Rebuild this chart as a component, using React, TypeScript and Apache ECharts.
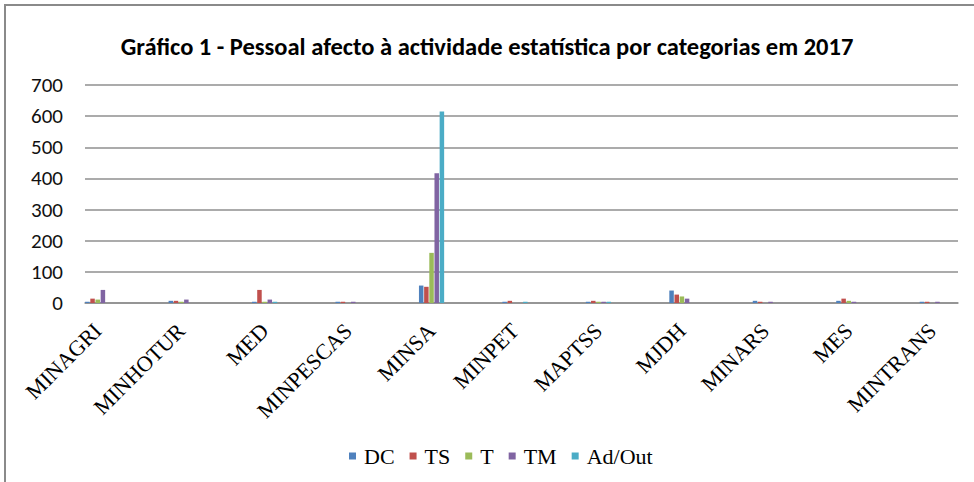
import { useEffect, useRef } from 'react';
import * as echarts from 'echarts';

const categories = ['MINAGRI', 'MINHOTUR', 'MED', 'MINPESCAS', 'MINSA', 'MINPET', 'MAPTSS', 'MJDH', 'MINARS', 'MES', 'MINTRANS'];
const seriesNames = ['DC', 'TS', 'T', 'TM', 'Ad/Out'];
const dcValues = [4, 7, 4, 4, 56, 4, 4, 40, 7, 7, 4];
const tsValues = [14, 7, 42, 4, 52, 7, 7, 27, 4, 14, 4];
const tValues = [11, 4, 4, 0, 161, 0, 4, 21, 0, 7, 0];
const tmValues = [42, 11, 11, 4, 417, 0, 4, 14, 4, 4, 4];
const adOutValues = [0, 0, 4, 0, 615, 4, 4, 0, 0, 0, 0];
const colors = ['#4F81BD', '#C0504D', '#9BBB59', '#8064A2', '#4BACC6'];
const titleText = 'Gráfico 1 - Pessoal afecto à actividade estatística por categorias em 2017';

export default function App() {
  const ref = useRef<HTMLDivElement>(null);
  useEffect(() => {
    const chart = echarts.init(ref.current!, null, { renderer: 'svg' });
    const allValues = [dcValues, tsValues, tValues, tmValues, adOutValues];
    chart.setOption({
      animation: false,
      backgroundColor: '#ffffff',
      title: {
        text: titleText,
        left: 'center',
        top: 29,
        textStyle: {
          fontFamily: "Carlito, 'Liberation Sans Narrow', sans-serif",
          fontSize: 24.5,
          fontWeight: 'bold',
          color: '#000',
        },
      },
      graphic: [
        {
          type: 'rect',
          shape: { x: 5, y: 5, width: 1000, height: 1000 },
          style: { fill: 'none', stroke: '#8a8a8a', lineWidth: 2 },
          silent: true,
        },
      ],
      legend: {
        data: seriesNames,
        top: 440,
        left: 344,
        icon: 'rect',
        itemWidth: 7,
        itemHeight: 7,
        itemGap: 15,
        textStyle: {
          fontFamily: "'Liberation Serif', serif",
          fontSize: 22,
          color: '#000',
          padding: [0, 0, 0, 3],
        },
      },
      grid: [
        { left: 85, right: 16, top: 85, bottom: 179 },
        { left: 56, width: 930, top: 85, bottom: 179 },
      ],
      xAxis: [
        {
          gridIndex: 0,
          type: 'category',
          data: categories,
          axisLine: { lineStyle: { color: '#8f8f8f', width: 1.5 } },
          axisTick: { show: false },
          axisLabel: { show: false },
        },
        {
          gridIndex: 1,
          type: 'category',
          data: categories,
          axisLine: { show: false },
          axisTick: { show: false },
          axisLabel: {
            rotate: 45,
            interval: 0,
            margin: 24,
            fontFamily: "'Liberation Serif', serif",
            fontSize: 22,
            color: '#000',
          },
        },
      ],
      yAxis: [
        {
          gridIndex: 0,
          type: 'value',
          min: 0,
          max: 700,
          interval: 100,
          axisLine: { show: false },
          axisTick: { show: false },
          axisLabel: {
            margin: 22,
            fontFamily: "Carlito, 'Liberation Sans', sans-serif",
            fontSize: 21,
            color: '#111',
          },
          splitLine: { lineStyle: { color: '#8f8f8f', width: 1.5 } },
        },
        {
          gridIndex: 1,
          type: 'value',
          min: 0,
          max: 700,
          interval: 100,
          show: false,
          splitLine: { show: false },
        },
      ],
      series: seriesNames.map((name, i) => ({
        name,
        type: 'bar',
        xAxisIndex: 1,
        yAxisIndex: 1,
        data: allValues[i],
        barWidth: 4.5,
        barGap: '15%',
        itemStyle: { color: colors[i] },
      })),
    });
    return () => chart.dispose();
  }, []);
  return (
    <div
      ref={ref}
      style={{ position: 'fixed', left: 0, top: 0, width: 974, height: 482, background: '#fff' }}
    />
  );
}
